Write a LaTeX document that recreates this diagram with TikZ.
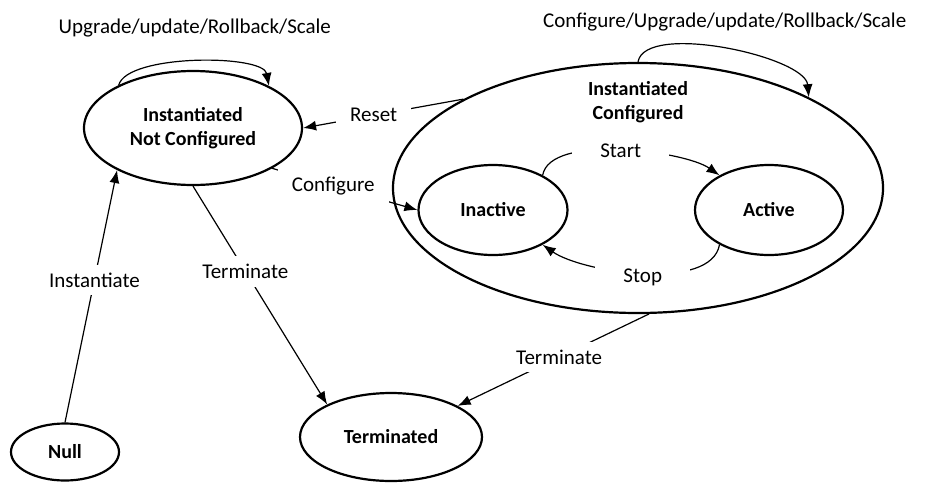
\documentclass[tikz,border=0pt]{standalone}
\usepackage{fontspec}
\setmainfont{Carlito}
\usetikzlibrary{positioning,arrows.meta,shapes.geometric}

\tikzset{
  state/.style={draw, ellipse, line width=1.1pt, inner sep=0pt, font=\bfseries, align=center},
  trans/.style={line width=0.6pt, -{Latex[length=6.5pt,width=5pt]}},
  lbl/.style={fill=white, inner xsep=7pt, inner ysep=4pt},
}

\begin{document}
\begin{tikzpicture}[x=0.5pt, y=0.5pt, on grid, font=\fontsize{10.5}{12.5}\selectfont]
    \useasboundingbox (0,0) rectangle (930,-482);

    \node[state, minimum width=109pt, minimum height=57pt] (inc) at (193,-128) {Instantiated\\Not Configured};
    \node[state, minimum width=245pt, minimum height=125pt, below right=30pt and 222.5pt of inc] (conf) {};
    \node[font=\bfseries, align=center, yshift=-20pt] (conftxt) at (conf.north) {Instantiated\\Configured};
    \node[state, minimum width=74.5pt, minimum height=45pt, below left=11pt and 72.5pt of conf] (inact) {Inactive};
    \node[state, minimum width=74pt, minimum height=45pt, right=138pt of inact] (act) {Active};
    \node[state, minimum width=54pt, minimum height=28.5pt, below left=162pt and 64pt of inc] (null) {Null};
    \node[state, minimum width=91pt, minimum height=44pt, below right=154.5pt and 99pt of inc] (term) {Terminated};

    \draw[trans] (inc.150) to[out=75, in=100, looseness=0.55]
        node[midway, yshift=17pt] {Upgrade/update/Rollback/Scale} (inc.29);
    \draw[trans] (conf.north) to[out=80, in=95, looseness=0.6]
        node[midway, yshift=13.5pt] {Configure/Upgrade/update/Rollback/Scale} (conf.28);
    \draw[trans] (conf.153) -- node[lbl, pos=0.56] {Reset} (inc.0);
    \draw[trans] (inc.-27) -- node[lbl, pos=0.42] {Configure} (inact.west);
    \draw[trans] (null.north) -- node[lbl, pos=0.565] {Instantiate} (inc.209);
    \draw[trans] (inc.south) -- node[lbl, pos=0.39] {Terminate} (term.153);
    \draw[trans] (conf.275) -- node[lbl, pos=0.47] {Terminate} (term.25);
    \draw[trans] (inact.35) to[out=80, in=145, looseness=0.62]
        node[lbl, inner xsep=14pt] {Start} (act.145);
    \draw[trans] (act.215) to[out=260, in=325, looseness=0.7]
        node[lbl, inner xsep=14pt, yshift=-2pt] {Stop} (inact.325);
\end{tikzpicture}
\end{document}
